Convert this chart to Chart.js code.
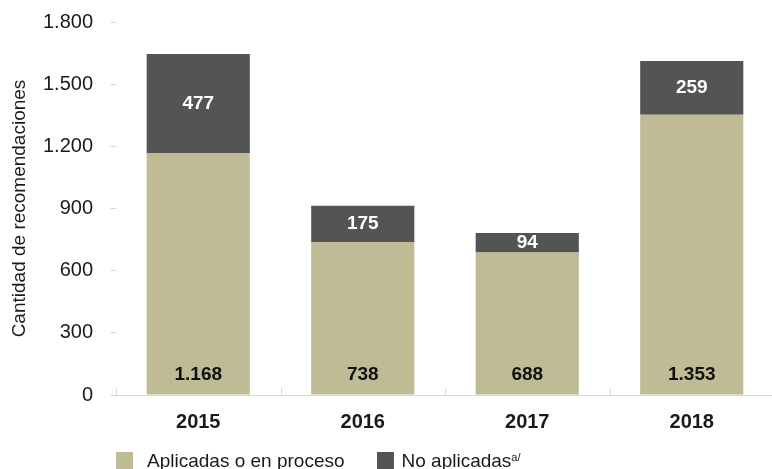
<!DOCTYPE html>
<html>
<head>
<meta charset="utf-8">
<script src="https://cdn.jsdelivr.net/npm/chart.js@4.4.1/dist/chart.umd.min.js"></script>
<style>
    html, body { margin: 0; padding: 0; background: #fff; overflow: hidden; }
    #wrap { position: relative; width: 774px; height: 469px; }
    #legend {
        position: absolute; left: 116px; top: 452px;
        display: flex; white-space: nowrap;
        font: 19px "Liberation Sans", sans-serif; color: #1a1a1a;
    }
    .item { display: flex; align-items: flex-start; }
    .box { width: 17px; height: 17px; margin-right: 14px; }
    .item span.txt { line-height: 19px; margin-top: -1px; }
    .item + .item { margin-left: 32px; }
    .item + .item .box { margin-right: 8px; }
    sup { font-size: 11px; vertical-align: 6px; line-height: 0; }
</style>
</head>
<body>
<div id="wrap">
    <canvas id="chart" width="774" height="469"></canvas>
    <div id="legend"></div>
</div>
<script>
// chart data
const years = ['2015', '2016', '2017', '2018'];
const aplicadas = [1168, 738, 688, 1353];
const noAplicadas = [477, 175, 94, 259];
const seriesNames = ['Aplicadas o en proceso', 'No aplicadas'];
const seriesNotes = ['', 'a/'];
const yTicks = [0, 300, 600, 900, 1200, 1500, 1800];

const colors = ['#bfbb94', '#545454'];

// spanish style thousands: 1.800
function fmt(v) {
    return String(v).replace(/\B(?=(\d{3})+(?!\d))/g, '.');
}

// numbers inside the bars
const barLabels = {
    id: 'barLabels',
    afterDatasetsDraw(chart) {
        const ctx = chart.ctx;
        ctx.save();
        ctx.font = 'bold 19px "Liberation Sans", sans-serif';
        ctx.textAlign = 'center';
        ctx.textBaseline = 'middle';
        chart.data.datasets.forEach((ds, i) => {
            chart.getDatasetMeta(i).data.forEach((bar, j) => {
                if (i === 0) {
                    ctx.fillStyle = '#111';
                    ctx.fillText(fmt(ds.data[j]), bar.x, bar.base - 20);
                } else {
                    ctx.fillStyle = '#fff';
                    ctx.fillText(fmt(ds.data[j]), bar.x, (bar.y + bar.base) / 2);
                }
            });
        });
        ctx.restore();
    }
};

// small ticks between categories, pointing up from the axis
const innerTicks = {
    id: 'innerTicks',
    afterDraw(chart) {
        const x = chart.scales.x;
        const ctx = chart.ctx;
        const half = (x.getPixelForValue(1) - x.getPixelForValue(0)) / 2;
        const bottom = chart.chartArea.bottom;
        ctx.save();
        ctx.strokeStyle = '#d9d9d9';
        ctx.lineWidth = 1;
        for (let i = 0; i < years.length; i++) {
            const px = Math.round(x.getPixelForValue(i) - half) + 0.5;
            ctx.beginPath();
            ctx.moveTo(px, bottom - 7);
            ctx.lineTo(px, bottom);
            ctx.stroke();
        }
        ctx.restore();
    }
};

const chart = new Chart(document.getElementById('chart'), {
    type: 'bar',
    data: {
        labels: years,
        datasets: [
            { label: seriesNames[0], data: aplicadas, backgroundColor: colors[0] },
            { label: seriesNames[1], data: noAplicadas, backgroundColor: colors[1] }
        ]
    },
    options: {
        responsive: false,
        animation: false,
        layout: { padding: { top: 22, bottom: 20, left: 0, right: 0 } },
        datasets: { bar: { categoryPercentage: 0.627, barPercentage: 1 } },
        scales: {
            x: {
                stacked: true,
                grid: { display: true, drawOnChartArea: false, drawTicks: false, color: '#d9d9d9' },
                border: { display: true, color: '#d9d9d9', width: 1 },
                ticks: {
                    padding: 15,
                    color: '#1a1a1a',
                    font: { family: '"Liberation Sans", sans-serif', size: 20, weight: 'bold' }
                }
            },
            y: {
                stacked: true,
                min: 0,
                max: 1800,
                afterBuildTicks(scale) {
                    scale.ticks = yTicks.map(v => ({ value: v }));
                },
                afterFit(scale) {
                    scale.width = 116;
                    scale.paddingTop = 0;
                    scale.paddingBottom = 0;
                },
                grid: { display: true, drawOnChartArea: false, drawTicks: true, tickLength: 6, color: '#d9d9d9' },
                border: { display: false },
                ticks: {
                    padding: 17,
                    color: '#1a1a1a',
                    font: { family: '"Liberation Sans", sans-serif', size: 20 },
                    callback: v => fmt(v)
                },
                title: {
                    display: true,
                    text: 'Cantidad de recomendaciones',
                    color: '#1a1a1a',
                    padding: { top: 8, bottom: 0 },
                    font: { family: '"Liberation Sans", sans-serif', size: 19 }
                }
            }
        },
        plugins: {
            legend: { display: false },
            tooltip: { enabled: false }
        }
    },
    plugins: [barLabels, innerTicks]
});

// html legend so the note can be a superscript
const legend = document.getElementById('legend');
chart.data.datasets.forEach((ds, i) => {
    const item = document.createElement('div');
    item.className = 'item';
    const box = document.createElement('div');
    box.className = 'box';
    box.style.background = ds.backgroundColor;
    const txt = document.createElement('span');
    txt.className = 'txt';
    txt.textContent = ds.label;
    if (seriesNotes[i]) {
        const sup = document.createElement('sup');
        sup.textContent = seriesNotes[i];
        txt.appendChild(sup);
    }
    item.appendChild(box);
    item.appendChild(txt);
    legend.appendChild(item);
});
</script>
</body>
</html>
